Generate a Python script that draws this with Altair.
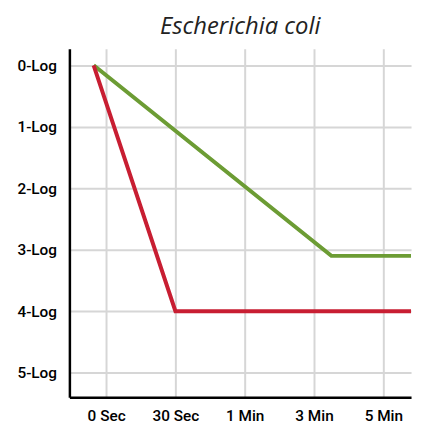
import altair as alt
import pandas as pd

tick_labels = ["0 Sec", "30 Sec", "1 Min", "3 Min", "5 Min"]
y_labels = ["0-Log", "1-Log", "2-Log", "3-Log", "4-Log", "5-Log"]

green_x = [-0.18, 3.25, 4.4]
green_y = [0, 3.1, 3.1]
red_x = [-0.18, 1.0, 4.4]
red_y = [0, 4, 4]

rows = []
for i, (x, y) in enumerate(zip(green_x, green_y)):
    rows.append({"series": "green", "x": x, "y": y, "o": i})
for i, (x, y) in enumerate(zip(red_x, red_y)):
    rows.append({"series": "red", "x": x, "y": y, "o": i})
df = pd.DataFrame(rows)

xlab = "[" + ",".join('"%s"' % t for t in tick_labels) + "][datum.value]"
ylab = "[" + ",".join('"%s"' % t for t in y_labels) + "][datum.value]"

chart = alt.Chart(df).mark_line(strokeWidth=4, clip=True).encode(
    x=alt.X("x:Q", scale=alt.Scale(domain=[-0.53, 4.4], nice=False, zero=False),
            axis=alt.Axis(values=[0, 1, 2, 3, 4], labelExpr=xlab, title=None,
                          ticks=False, domainColor="black", domainWidth=2.5,
                          gridColor="#d6d6d6", gridWidth=2, labelPadding=11,
                          labelFontSize=15.5, labelFont="Roboto", labelFontWeight=500,
                          labelColor="black")),
    y=alt.Y("y:Q", scale=alt.Scale(domain=[-0.27, 5.4], reverse=True, nice=False, zero=False),
            axis=alt.Axis(values=[0, 1, 2, 3, 4, 5], labelExpr=ylab, title=None,
                          ticks=False, domainColor="black", domainWidth=2.5,
                          gridColor="#d6d6d6", gridWidth=2, labelPadding=13,
                          minExtent=57, maxExtent=57,
                          labelFontSize=15.5, labelFont="Roboto", labelFontWeight=500,
                          labelColor="black")),
    color=alt.Color("series:N", scale=alt.Scale(domain=["green", "red"], range=["#6c9c34", "#c81e32"]), legend=None),
    order="o:Q",
    detail="series:N",
).properties(
    width=345, height=352,
    title=alt.TitleParams("Escherichia coli", fontSize=24, font="Open Sans", fontStyle="italic",
                          fontWeight="normal", color="#222222", offset=10, anchor="middle"),
    padding={"left": 5, "top": 5, "right": 5, "bottom": 5},
).configure_view(stroke=None)

chart.save("out.html", embed_options={"renderer": "svg", "actions": False})
